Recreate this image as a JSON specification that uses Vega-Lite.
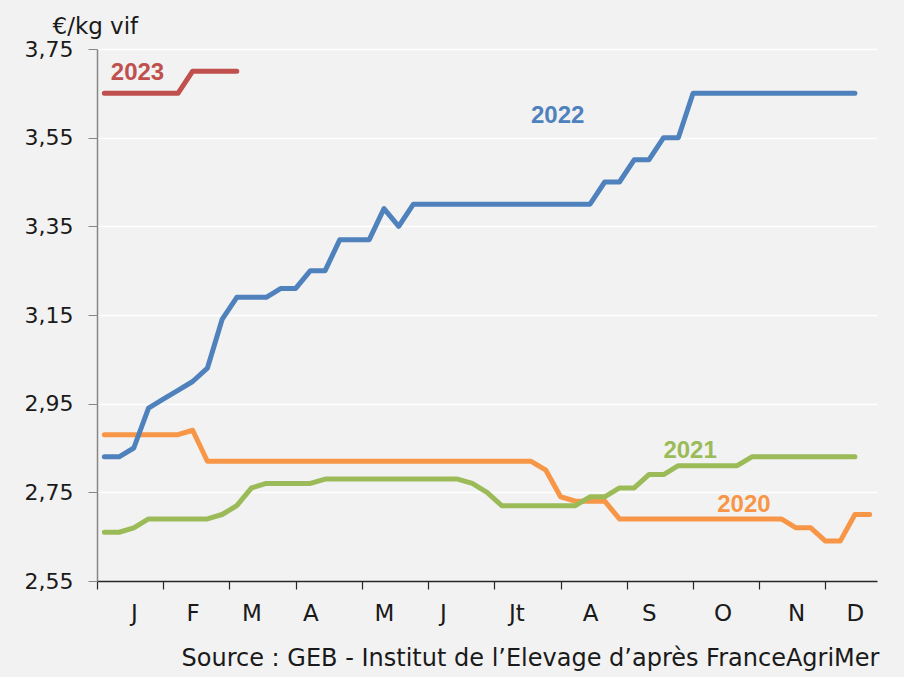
{
  "$schema": "https://vega.github.io/schema/vega-lite/v6.json",
  "width": 780,
  "height": 532,
  "autosize": "none",
  "padding": {"left": 97, "top": 49, "right": 27, "bottom": 96},
  "background": "#f2f2f2",
  "config": {
    "view": {"stroke": null},
    "font": "DejaVu Sans"
  },
  "datasets": {
    "prices": [
      {"year": "2020", "week": 1, "price": 2.88}, {"year": "2020", "week": 2, "price": 2.88}, {"year": "2020", "week": 3, "price": 2.88}, {"year": "2020", "week": 4, "price": 2.88}, {"year": "2020", "week": 5, "price": 2.88}, {"year": "2020", "week": 6, "price": 2.88}, {"year": "2020", "week": 7, "price": 2.89}, {"year": "2020", "week": 8, "price": 2.82}, {"year": "2020", "week": 9, "price": 2.82}, {"year": "2020", "week": 10, "price": 2.82}, {"year": "2020", "week": 11, "price": 2.82}, {"year": "2020", "week": 12, "price": 2.82}, {"year": "2020", "week": 13, "price": 2.82}, {"year": "2020", "week": 14, "price": 2.82}, {"year": "2020", "week": 15, "price": 2.82}, {"year": "2020", "week": 16, "price": 2.82}, {"year": "2020", "week": 17, "price": 2.82}, {"year": "2020", "week": 18, "price": 2.82}, {"year": "2020", "week": 19, "price": 2.82}, {"year": "2020", "week": 20, "price": 2.82}, {"year": "2020", "week": 21, "price": 2.82}, {"year": "2020", "week": 22, "price": 2.82}, {"year": "2020", "week": 23, "price": 2.82}, {"year": "2020", "week": 24, "price": 2.82}, {"year": "2020", "week": 25, "price": 2.82}, {"year": "2020", "week": 26, "price": 2.82}, {"year": "2020", "week": 27, "price": 2.82}, {"year": "2020", "week": 28, "price": 2.82}, {"year": "2020", "week": 29, "price": 2.82}, {"year": "2020", "week": 30, "price": 2.82}, {"year": "2020", "week": 31, "price": 2.80}, {"year": "2020", "week": 32, "price": 2.74}, {"year": "2020", "week": 33, "price": 2.73}, {"year": "2020", "week": 34, "price": 2.73}, {"year": "2020", "week": 35, "price": 2.73}, {"year": "2020", "week": 36, "price": 2.69}, {"year": "2020", "week": 37, "price": 2.69}, {"year": "2020", "week": 38, "price": 2.69}, {"year": "2020", "week": 39, "price": 2.69}, {"year": "2020", "week": 40, "price": 2.69}, {"year": "2020", "week": 41, "price": 2.69}, {"year": "2020", "week": 42, "price": 2.69}, {"year": "2020", "week": 43, "price": 2.69}, {"year": "2020", "week": 44, "price": 2.69}, {"year": "2020", "week": 45, "price": 2.69}, {"year": "2020", "week": 46, "price": 2.69}, {"year": "2020", "week": 47, "price": 2.69}, {"year": "2020", "week": 48, "price": 2.67}, {"year": "2020", "week": 49, "price": 2.67}, {"year": "2020", "week": 50, "price": 2.64}, {"year": "2020", "week": 51, "price": 2.64}, {"year": "2020", "week": 52, "price": 2.70}, {"year": "2020", "week": 53, "price": 2.70},
      {"year": "2021", "week": 1, "price": 2.66}, {"year": "2021", "week": 2, "price": 2.66}, {"year": "2021", "week": 3, "price": 2.67}, {"year": "2021", "week": 4, "price": 2.69}, {"year": "2021", "week": 5, "price": 2.69}, {"year": "2021", "week": 6, "price": 2.69}, {"year": "2021", "week": 7, "price": 2.69}, {"year": "2021", "week": 8, "price": 2.69}, {"year": "2021", "week": 9, "price": 2.70}, {"year": "2021", "week": 10, "price": 2.72}, {"year": "2021", "week": 11, "price": 2.76}, {"year": "2021", "week": 12, "price": 2.77}, {"year": "2021", "week": 13, "price": 2.77}, {"year": "2021", "week": 14, "price": 2.77}, {"year": "2021", "week": 15, "price": 2.77}, {"year": "2021", "week": 16, "price": 2.78}, {"year": "2021", "week": 17, "price": 2.78}, {"year": "2021", "week": 18, "price": 2.78}, {"year": "2021", "week": 19, "price": 2.78}, {"year": "2021", "week": 20, "price": 2.78}, {"year": "2021", "week": 21, "price": 2.78}, {"year": "2021", "week": 22, "price": 2.78}, {"year": "2021", "week": 23, "price": 2.78}, {"year": "2021", "week": 24, "price": 2.78}, {"year": "2021", "week": 25, "price": 2.78}, {"year": "2021", "week": 26, "price": 2.77}, {"year": "2021", "week": 27, "price": 2.75}, {"year": "2021", "week": 28, "price": 2.72}, {"year": "2021", "week": 29, "price": 2.72}, {"year": "2021", "week": 30, "price": 2.72}, {"year": "2021", "week": 31, "price": 2.72}, {"year": "2021", "week": 32, "price": 2.72}, {"year": "2021", "week": 33, "price": 2.72}, {"year": "2021", "week": 34, "price": 2.74}, {"year": "2021", "week": 35, "price": 2.74}, {"year": "2021", "week": 36, "price": 2.76}, {"year": "2021", "week": 37, "price": 2.76}, {"year": "2021", "week": 38, "price": 2.79}, {"year": "2021", "week": 39, "price": 2.79}, {"year": "2021", "week": 40, "price": 2.81}, {"year": "2021", "week": 41, "price": 2.81}, {"year": "2021", "week": 42, "price": 2.81}, {"year": "2021", "week": 43, "price": 2.81}, {"year": "2021", "week": 44, "price": 2.81}, {"year": "2021", "week": 45, "price": 2.83}, {"year": "2021", "week": 46, "price": 2.83}, {"year": "2021", "week": 47, "price": 2.83}, {"year": "2021", "week": 48, "price": 2.83}, {"year": "2021", "week": 49, "price": 2.83}, {"year": "2021", "week": 50, "price": 2.83}, {"year": "2021", "week": 51, "price": 2.83}, {"year": "2021", "week": 52, "price": 2.83},
      {"year": "2022", "week": 1, "price": 2.83}, {"year": "2022", "week": 2, "price": 2.83}, {"year": "2022", "week": 3, "price": 2.85}, {"year": "2022", "week": 4, "price": 2.94}, {"year": "2022", "week": 5, "price": 2.96}, {"year": "2022", "week": 6, "price": 2.98}, {"year": "2022", "week": 7, "price": 3.00}, {"year": "2022", "week": 8, "price": 3.03}, {"year": "2022", "week": 9, "price": 3.14}, {"year": "2022", "week": 10, "price": 3.19}, {"year": "2022", "week": 11, "price": 3.19}, {"year": "2022", "week": 12, "price": 3.19}, {"year": "2022", "week": 13, "price": 3.21}, {"year": "2022", "week": 14, "price": 3.21}, {"year": "2022", "week": 15, "price": 3.25}, {"year": "2022", "week": 16, "price": 3.25}, {"year": "2022", "week": 17, "price": 3.32}, {"year": "2022", "week": 18, "price": 3.32}, {"year": "2022", "week": 19, "price": 3.32}, {"year": "2022", "week": 20, "price": 3.39}, {"year": "2022", "week": 21, "price": 3.35}, {"year": "2022", "week": 22, "price": 3.40}, {"year": "2022", "week": 23, "price": 3.40}, {"year": "2022", "week": 24, "price": 3.40}, {"year": "2022", "week": 25, "price": 3.40}, {"year": "2022", "week": 26, "price": 3.40}, {"year": "2022", "week": 27, "price": 3.40}, {"year": "2022", "week": 28, "price": 3.40}, {"year": "2022", "week": 29, "price": 3.40}, {"year": "2022", "week": 30, "price": 3.40}, {"year": "2022", "week": 31, "price": 3.40}, {"year": "2022", "week": 32, "price": 3.40}, {"year": "2022", "week": 33, "price": 3.40}, {"year": "2022", "week": 34, "price": 3.40}, {"year": "2022", "week": 35, "price": 3.45}, {"year": "2022", "week": 36, "price": 3.45}, {"year": "2022", "week": 37, "price": 3.50}, {"year": "2022", "week": 38, "price": 3.50}, {"year": "2022", "week": 39, "price": 3.55}, {"year": "2022", "week": 40, "price": 3.55}, {"year": "2022", "week": 41, "price": 3.65}, {"year": "2022", "week": 42, "price": 3.65}, {"year": "2022", "week": 43, "price": 3.65}, {"year": "2022", "week": 44, "price": 3.65}, {"year": "2022", "week": 45, "price": 3.65}, {"year": "2022", "week": 46, "price": 3.65}, {"year": "2022", "week": 47, "price": 3.65}, {"year": "2022", "week": 48, "price": 3.65}, {"year": "2022", "week": 49, "price": 3.65}, {"year": "2022", "week": 50, "price": 3.65}, {"year": "2022", "week": 51, "price": 3.65}, {"year": "2022", "week": 52, "price": 3.65},
      {"year": "2023", "week": 1, "price": 3.65}, {"year": "2023", "week": 2, "price": 3.65}, {"year": "2023", "week": 3, "price": 3.65}, {"year": "2023", "week": 4, "price": 3.65}, {"year": "2023", "week": 5, "price": 3.65}, {"year": "2023", "week": 6, "price": 3.65}, {"year": "2023", "week": 7, "price": 3.70}, {"year": "2023", "week": 8, "price": 3.70}, {"year": "2023", "week": 9, "price": 3.70}, {"year": "2023", "week": 10, "price": 3.70}
    ],
    "labels": [
      {"year": "2023", "week": 3.25, "price": 3.695},
      {"year": "2022", "week": 31.8, "price": 3.598},
      {"year": "2021", "week": 40.8, "price": 2.843},
      {"year": "2020", "week": 44.46, "price": 2.721}
    ]
  },
  "resolve": {"axis": {"x": "independent"}},
  "layer": [
    {
      "data": {"name": "prices"},
      "mark": {"type": "line", "strokeWidth": 5, "strokeCap": "round", "strokeJoin": "round"},
      "encoding": {
        "x": {
          "field": "week", "type": "quantitative",
          "scale": {"domain": [0.5, 53.5], "nice": false, "zero": false},
          "axis": {
            "orient": "bottom",
            "values": [0.5, 5, 9.5, 14, 18.5, 23, 27.5, 32, 36.5, 41, 45.5, 50],
            "labels": false, "grid": false, "title": null,
            "tickSize": 8, "tickColor": "#262626", "tickWidth": 1.2,
            "domainColor": "#262626", "domainWidth": 1.5
          }
        },
        "y": {
          "field": "price", "type": "quantitative",
          "scale": {"domain": [2.55, 3.75], "nice": false, "zero": false},
          "axis": {
            "values": [2.55, 2.75, 2.95, 3.15, 3.35, 3.55, 3.75],
            "labelExpr": "replace(format(datum.value, '.2f'), '.', ',')",
            "labelFontSize": 22, "labelColor": "#1a1a1a", "labelPadding": 15,
            "tickSize": 9, "tickColor": "#868686", "domainColor": "#868686", "domainWidth": 1.5,
            "grid": true, "gridColor": "#ffffff", "gridWidth": 1.3,
            "title": "€/kg vif", "titleAngle": 0, "titleAlign": "left", "titleBaseline": "alphabetic",
            "titleX": -45, "titleY": -16, "titleFontSize": 23, "titleFontWeight": "normal", "titleColor": "#1a1a1a"
          }
        },
        "color": {
          "field": "year", "type": "nominal",
          "scale": {"domain": ["2020", "2021", "2022", "2023"], "range": ["#f79646", "#9bbb59", "#4f81bd", "#c0504d"]},
          "legend": null
        }
      }
    },
    {
      "data": {"name": "labels"},
      "mark": {"type": "text", "font": "Liberation Sans", "fontWeight": "bold", "fontSize": 24, "align": "center", "baseline": "middle"},
      "encoding": {
        "x": {
          "field": "week", "type": "quantitative",
          "axis": {
            "orient": "bottom",
            "values": [3, 7, 11, 15, 20, 24, 29, 34, 38, 43, 48, 52],
            "labelExpr": "{'3':'J','7':'F','11':'M','15':'A','20':'M','24':'J','29':'Jt','34':'A','38':'S','43':'O','48':'N','52':'D'}[datum.value]",
            "ticks": false, "tickSize": 0, "domain": false, "grid": false,
            "labelFontSize": 23, "labelColor": "#1a1a1a", "labelPadding": 21, "labelBaseline": "top",
            "title": "Source : GEB - Institut de l’Elevage d’après FranceAgriMer",
            "titleFontSize": 24, "titleFontWeight": "normal", "titleColor": "#1a1a1a",
            "titleX": 433, "titleY": 84, "titleAlign": "center", "titleBaseline": "alphabetic"
          }
        },
        "y": {"field": "price", "type": "quantitative"},
        "text": {"field": "year", "type": "nominal"},
        "color": {"field": "year", "type": "nominal", "legend": null}
      }
    }
  ]
}
